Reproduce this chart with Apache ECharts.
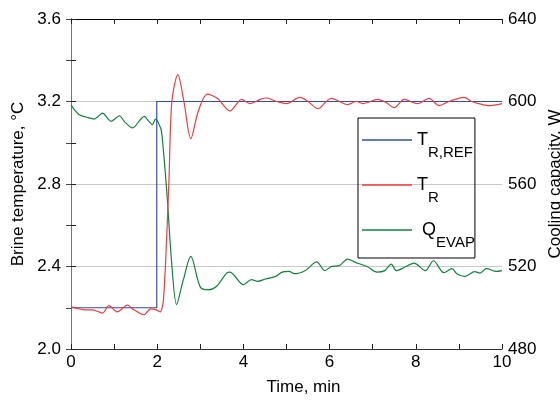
<!DOCTYPE html>
<html>
<head>
<meta charset="utf-8">
<script src="https://cdn.jsdelivr.net/npm/echarts@6/dist/echarts.min.js"></script>
<style>
  html, body { margin: 0; padding: 0; background: #fff; }
  #chart_div { width: 560px; height: 400px; }
</style>
</head>
<body>
<div id="chart_div"></div>
<script>
// time, min
var refTime = [0, 1.99, 1.99, 10];
var refTemp = [2.2, 2.2, 3.2, 3.2];

var trTime = [0, 0.2, 0.35, 0.5, 0.73, 0.88, 1.07, 1.31, 1.46, 1.69, 1.85, 1.98, 2.07, 2.15, 2.27, 2.34, 2.48, 2.62, 2.78, 2.95, 3.16, 3.4, 3.69, 3.96, 4.15, 4.39, 4.54, 4.77, 5.0, 5.31, 5.5, 5.73, 5.92, 6.04, 6.23, 6.42, 6.62, 6.77, 7.12, 7.31, 7.5, 7.73, 8.04, 8.31, 8.54, 8.77, 9.12, 9.3, 9.46, 9.69, 10];
var trTemp = [2.204, 2.194, 2.19, 2.19, 2.174, 2.21, 2.18, 2.213, 2.19, 2.166, 2.195, 2.19, 2.18, 2.25, 2.8, 3.2, 3.33, 3.2, 3.02, 3.15, 3.236, 3.215, 3.155, 3.21, 3.19, 3.21, 3.217, 3.2, 3.19, 3.22, 3.2, 3.165, 3.2, 3.215, 3.2, 3.185, 3.2, 3.19, 3.21, 3.195, 3.17, 3.21, 3.19, 3.215, 3.18, 3.2, 3.22, 3.2, 3.19, 3.18, 3.19];

var qTime = [0, 0.1, 0.19, 0.35, 0.54, 0.64, 0.73, 0.93, 1.03, 1.12, 1.25, 1.43, 1.6, 1.7, 1.8, 1.89, 1.96, 2.03, 2.1, 2.23, 2.33, 2.45, 2.6, 2.78, 3.0, 3.19, 3.38, 3.61, 3.69, 4.0, 4.19, 4.33, 4.52, 4.75, 4.9, 5.06, 5.18, 5.44, 5.7, 5.89, 6.04, 6.23, 6.42, 6.6, 6.87, 7.1, 7.28, 7.43, 7.55, 7.73, 7.96, 8.22, 8.41, 8.65, 8.84, 8.95, 9.14, 9.37, 9.49, 9.64, 9.87, 10];
var qEvap = [598.4, 595.5, 593.6, 592.5, 591.5, 593, 594.4, 590.4, 591.8, 593.1, 590, 587.2, 591, 592.8, 590.5, 588.8, 591.5, 589.6, 585.5, 554, 523.3, 501.5, 513, 524.9, 510, 508.7, 510.4, 516.8, 517.3, 511.2, 513.6, 512.8, 514, 515.2, 517.3, 517.6, 516.5, 518.1, 522.2, 518, 520, 520.5, 523.6, 522, 520, 517.3, 518, 521.2, 518, 519.5, 521.6, 518, 522.8, 517, 519, 516.5, 515.2, 517.5, 516.8, 519, 517.6, 518];

var leftTicks = { min: 2.0, max: 3.6, interval: 0.4 };
var rightTicks = { min: 480, max: 640, interval: 40 };
var timeTicks = { min: 0, max: 10, interval: 1 };

function pairs(xs, ys) {
  return xs.map(function (x, i) { return [x, ys[i]]; });
}

var font = 'Liberation Sans, Arial, sans-serif';
var labelNames = {
  'T_R,REF': '{m|T}{s|R,REF}',
  'T_R': '{m|T}{s|R}',
  'Q_EVAP': '{m| Q}{s|EVAP}'
};

var myChart = echarts.init(document.getElementById('chart_div'));
myChart.setOption({
  animation: false,
  textStyle: { fontFamily: font },
  grid: { left: 71, right: 58, top: 19, bottom: 51, outerBoundsMode: 'none', containLabel: false },
  legend: {
    orient: 'vertical',
    left: 358,
    top: 118,
    padding: [13, 0, 8, 4],
    borderColor: '#000',
    borderWidth: 1,
    itemWidth: 50,
    itemHeight: 1.5,
    itemGap: 16,
    itemTextGap: 1,
    icon: 'rect',
    selectedMode: false,
    data: ['T_R,REF', 'T_R', 'Q_EVAP'],
    formatter: function (name) { return labelNames[name]; },
    textStyle: {
      rich: {
        m: { fontSize: 18, lineHeight: 40, verticalAlign: 'middle', color: '#000', fontFamily: font },
        s: { fontSize: 15, lineHeight: 40, verticalAlign: 'bottom', color: '#000', fontFamily: font }
      }
    }
  },
  xAxis: [{
    type: 'value',
    min: timeTicks.min, max: timeTicks.max, interval: timeTicks.interval,
    name: 'Time, min',
    nameLocation: 'middle',
    nameGap: 30,
    nameTextStyle: { fontSize: 17, color: '#000', padding: [0, 0, 0, 34] },
    axisLine: { show: true, onZero: false, lineStyle: { color: '#333', width: 1 } },
    axisTick: { show: true, inside: true, length: 5, lineStyle: { color: '#222', width: 1 } },
    axisLabel: {
      fontSize: 17, color: '#000', margin: 5,
      formatter: function (v) { return v % 2 === 0 ? String(v) : ''; }
    },
    splitLine: { show: false }
  }, {
    type: 'value',
    position: 'top',
    min: timeTicks.min, max: timeTicks.max, interval: timeTicks.interval,
    axisLine: { show: true, onZero: false, lineStyle: { color: '#000', width: 1 } },
    axisTick: { show: true, inside: true, length: 5, lineStyle: { color: '#222', width: 1 } },
    axisLabel: { show: false },
    splitLine: { show: false }
  }],
  yAxis: [{
    type: 'value',
    min: leftTicks.min, max: leftTicks.max, interval: leftTicks.interval,
    name: 'Brine temperature, \u00b0C',
    nameLocation: 'middle',
    nameGap: 43,
    nameTextStyle: { fontSize: 17, color: '#000' },
    axisLine: { show: true, lineStyle: { color: '#000', width: 1 } },
    axisTick: { show: true, inside: true, length: 5, lineStyle: { color: '#222' } },
    minorTick: { show: true, splitNumber: 2, length: 5, lineStyle: { color: '#222' } },
    axisLabel: { fontSize: 17, color: '#000', margin: 10, formatter: function (v) { return v.toFixed(1); } },
    splitLine: { show: true, lineStyle: { color: '#c8c8c8', width: 1 } }
  }, {
    type: 'value',
    position: 'right',
    min: rightTicks.min, max: rightTicks.max, interval: rightTicks.interval,
    name: 'Cooling capacity, W',
    nameLocation: 'middle',
    nameRotate: 90,
    nameGap: 44,
    nameTextStyle: { fontSize: 17, color: '#000' },
    axisLine: { show: true, lineStyle: { color: '#777', width: 1 } },
    axisTick: { show: true, inside: true, length: 5, lineStyle: { color: '#444' } },
    minorTick: { show: true, splitNumber: 2, length: 5, lineStyle: { color: '#444' } },
    axisLabel: { fontSize: 17, color: '#000', margin: 6 },
    splitLine: { show: false }
  }],
  series: [{
    name: 'T_R,REF',
    type: 'line',
    data: pairs(refTime, refTemp),
    showSymbol: false,
    color: '#2f4fa6',
    lineStyle: { width: 1.2, color: '#2f4fa6' },
    z: 3
  }, {
    name: 'T_R',
    type: 'line',
    data: pairs(trTime, trTemp),
    showSymbol: false,
    smooth: 0.3,
    color: '#f03c3c',
    lineStyle: { width: 1.2, color: '#f03c3c' },
    z: 4
  }, {
    name: 'Q_EVAP',
    type: 'line',
    yAxisIndex: 1,
    data: pairs(qTime, qEvap),
    showSymbol: false,
    smooth: 0.3,
    color: '#12823e',
    lineStyle: { width: 1.2, color: '#12823e' },
    z: 2
  }]
});
</script>
</body>
</html>
